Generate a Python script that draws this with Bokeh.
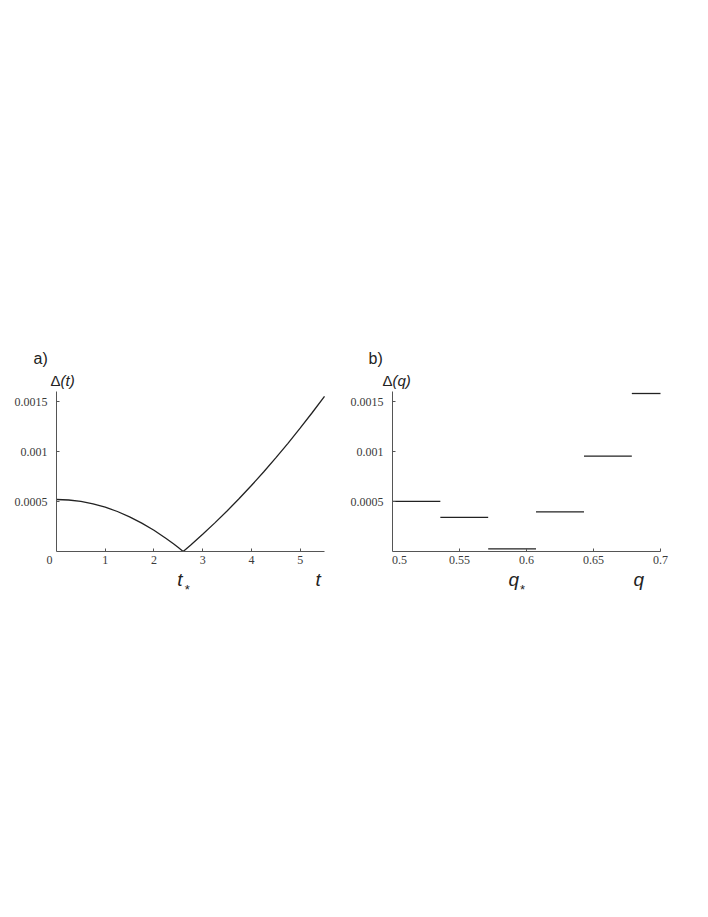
from bokeh.plotting import figure
from bokeh.layouts import row
from bokeh.models import FixedTicker, NumeralTickFormatter, LinearAxis, ColumnDataSource
from bokeh.core.properties import value
from bokeh.embed import file_html
from bokeh.resources import INLINE

# ---- data: panel a) Delta(t) ----
t_vals = [0.0, 0.25, 0.5, 0.75, 1.0, 1.25, 1.5, 1.75, 2.0, 2.25, 2.4, 2.5, 2.6,
          2.75, 3.0, 3.25, 3.5, 3.75, 4.0, 4.25, 4.5, 4.75, 5.0, 5.25, 5.5]
delta_t = [0.00052, 0.000515, 0.000501, 0.000477, 0.000443, 0.000400, 0.000347,
           0.000284, 0.000212, 0.000130, 0.000077, 0.000039, 0.0,
           0.000063, 0.000172, 0.000286, 0.000405, 0.000530, 0.000660, 0.000795,
           0.000936, 0.001082, 0.001233, 0.001390, 0.001552]
t_star = 2.6
t_min, t_max = 0.0, 5.5
t_ticks = [1, 2, 3, 4, 5]

# ---- data: panel b) Delta(q) ----
q_left = [0.5, 0.5357, 0.5714, 0.6071, 0.6429, 0.6786]
q_right = [0.5357, 0.5714, 0.6071, 0.6429, 0.6786, 0.7]
delta_q = [0.000502, 0.000342, 0.000027, 0.000396, 0.000953, 0.00158]
q_star = 0.5866
q_min, q_max = 0.5, 0.7
q_ticks = [0.55, 0.6, 0.65, 0.7]

y_ticks = [0.0005, 0.001, 0.0015]
y_min, y_max = 0.0, 0.0016

AX = "#555555"
LINE = "#222222"
TICK_TXT = "#3a3a3a"
SERIF = "Liberation Serif"
SANS = "Liberation Sans"

H = 620          # figure height
FRAME_PX = 268   # axis length in pixels (x)
Y_PX = 160       # axis length in pixels (y)
AXIS_Y = 551     # page y of the x axis
LEFT_A = 56      # x of panel a y axis inside its figure
LEFT_B = 57      # x of panel b y axis inside its figure


def make(width, left_px, x0, x1, ticks, fmt):
    ppu = FRAME_PX / (x1 - x0)
    xr = (x0 - left_px / ppu, x0 + (width - left_px) / ppu)
    ppy = Y_PX / (y_max - y_min)
    yr = (y_min - (H - AXIS_Y) / ppy, y_min + AXIS_Y / ppy)
    p = figure(width=width, height=H, x_range=xr, y_range=yr,
               output_backend="svg", toolbar_location=None,
               x_axis_location=None, y_axis_location=None, min_border=0)
    p.outline_line_color = None
    p.background_fill_color = "white"
    p.border_fill_color = "white"
    p.grid.visible = False
    xa = LinearAxis(fixed_location=y_min, bounds=(x0, x1),
                    ticker=FixedTicker(ticks=ticks),
                    formatter=NumeralTickFormatter(format=fmt))
    ya = LinearAxis(fixed_location=x0, bounds=(y_min, y_max),
                    ticker=FixedTicker(ticks=y_ticks),
                    formatter=NumeralTickFormatter(format="0.0[000]"))
    for ax in (xa, ya):
        ax.axis_line_color = AX
        ax.axis_line_width = 1
        ax.major_tick_line_color = AX
        ax.major_tick_in = 3
        ax.major_tick_out = 0
        ax.minor_tick_line_color = None
        ax.major_label_text_font = SERIF
        ax.major_label_text_font_size = "12px"
        ax.major_label_text_color = TICK_TXT
    xa.major_label_standoff = 4
    ya.major_label_standoff = 9
    p.add_layout(xa, "below")
    p.add_layout(ya, "left")
    return p


def txt(p, x, y, s, xo, yo, size, font=SANS, style="normal", align="left",
        baseline="alphabetic", color="#222222"):
    src = ColumnDataSource(dict(x=[x], y=[y], s=[s]))
    p.text(x="x", y="y", text="s", source=src, x_offset=xo, y_offset=yo,
           text_font=value(font), text_font_size=size, text_font_style=style,
           text_align=align, text_baseline=baseline, text_color=color)


# ---- panel a ----
pa = make(335, LEFT_A, t_min, t_max, t_ticks, "0")
pa.line(t_vals, delta_t, line_color=LINE, line_width=1.3)
txt(pa, t_min, y_max, "a)", -23, -33, "16px")
txt(pa, t_min, y_max, "\u0394", -6, -11, "15px")
txt(pa, t_min, y_max, "(t)", 4, -11, "15px", style="italic")
txt(pa, t_min, y_min, "0", -7, 4, "12px", font=SERIF, align="center",
    baseline="top", color=TICK_TXT)
txt(pa, t_star, y_min, "t", -6, 28, "19px", style="italic")
txt(pa, t_star, y_min, "*", 4, 38, "13px", align="center")
txt(pa, t_max, y_min, "t", -9, 28, "19px", style="italic")

# ---- panel b ----
pb = make(365, LEFT_B, q_min, q_max, q_ticks, "0.0[0]")
pb.segment(x0=q_left, x1=q_right, y0=delta_q, y1=delta_q,
           line_color=LINE, line_width=1.3)
txt(pb, q_min, y_max, "b)", -24, -33, "16px")
txt(pb, q_min, y_max, "\u0394", -10, -11, "15px")
txt(pb, q_min, y_max, "(q)", 0, -11, "15px", style="italic")
txt(pb, q_min, y_min, "0.5", 7, 4, "12px", font=SERIF, align="center",
    baseline="top", color=TICK_TXT)
txt(pb, q_star, y_min, "q", 0, 28, "19px", style="italic")
txt(pb, q_star, y_min, "*", 14, 38, "13px", align="center")
txt(pb, q_max, y_min, "q", -27, 28, "19px", style="italic")

layout = row(pa, pb)
open("out.html", "w").write(file_html(layout, INLINE))
